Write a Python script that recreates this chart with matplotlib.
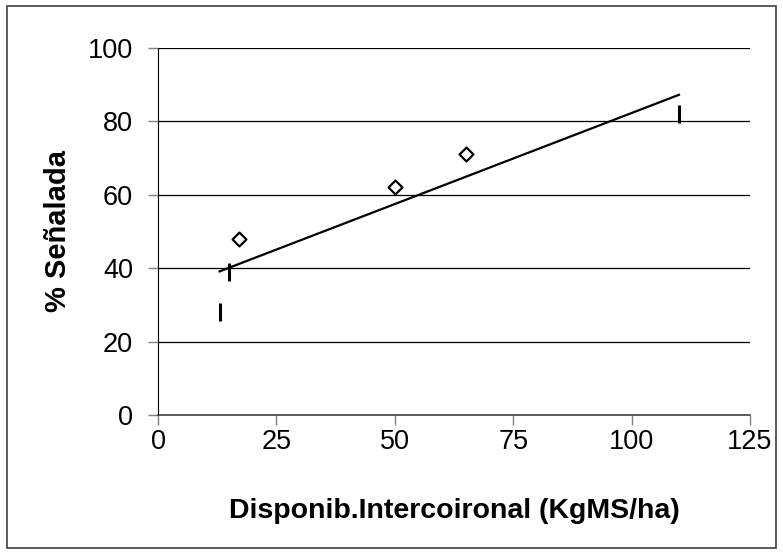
import numpy as np
import matplotlib
matplotlib.use("Agg")
import matplotlib.pyplot as plt
from matplotlib.patches import Rectangle

plt.rcParams['font.family'] = ['Liberation Sans', 'DejaVu Sans']

# data
x_diamond = [17, 50, 65]
y_diamond = [48, 62, 71]
x_dash = [13, 15, 110]
y_dash = [28, 39, 82]

x_ticks = [0, 25, 50, 75, 100, 125]
y_ticks = [0, 20, 40, 60, 80, 100]

# linear trend over all points
x_all = np.array(x_dash[:2] + x_diamond + x_dash[2:])
y_all = np.array(y_dash[:2] + y_diamond + y_dash[2:])
slope, intercept = np.polyfit(x_all, y_all, 1)
xt = np.array([x_all.min(), x_all.max()])

fig = plt.figure(figsize=(7.83, 5.54), dpi=100)
ax = fig.add_axes([158 / 783, 1 - 415 / 554, (750 - 158) / 783, (415 - 48) / 554])

# outer chart border
fig.patches.append(Rectangle((7 / 783, 6 / 554), 769 / 783, 542 / 554,
                             transform=fig.transFigure, fill=False,
                             edgecolor='#404040', linewidth=1.2))

for yv in y_ticks[1:]:
    ax.axhline(yv, color='black', linewidth=0.9, zorder=1)

ax.plot(xt, slope * xt + intercept, color='black', linewidth=1.6, zorder=3)
ax.scatter(x_diamond, y_diamond, marker='D', s=50, facecolors='white',
           edgecolors='black', linewidths=1.6, zorder=4)
ax.scatter(x_dash, y_dash, marker='|', s=150, color='black', linewidths=2.2, zorder=4)

ax.set_xlim(0, 125)
ax.set_ylim(0, 100)
ax.set_xticks(x_ticks)
ax.set_yticks(y_ticks)
ax.tick_params(labelsize=19.5, length=7, width=1, color='#808080')
ax.tick_params(axis='x', pad=3)
ax.tick_params(axis='y', pad=11)

for s in ['top', 'right']:
    ax.spines[s].set_visible(False)
ax.spines['left'].set_color('black')
ax.spines['bottom'].set_color('#404040')
ax.spines['bottom'].set_linewidth(1.2)

ax.set_xlabel('Disponib.Intercoironal (KgMS/ha)', fontsize=20.5, fontweight='bold', labelpad=31)
ax.set_ylabel('% Señalada', fontsize=21, fontweight='bold', labelpad=11)

fig.savefig('out.png', dpi=100)
